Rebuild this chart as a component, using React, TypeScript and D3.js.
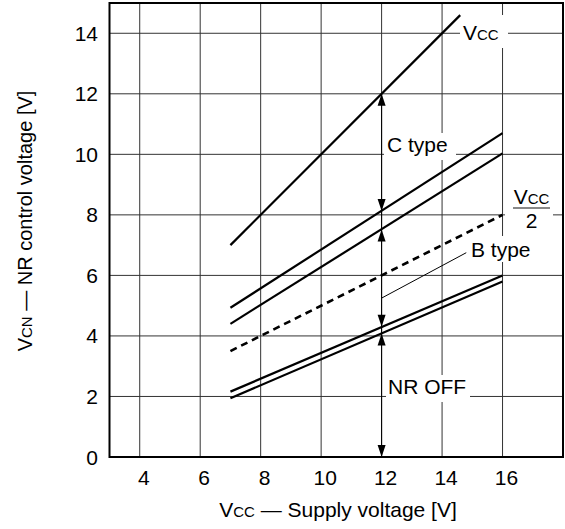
import React from "react";
import * as d3 from "d3";

// ---- data ----
const xTicks = [4, 6, 8, 10, 12, 14, 16];
const yTicks = [0, 2, 4, 6, 8, 10, 12, 14];
const gridX = [4, 6, 8, 10, 12, 14, 16];
const gridY = [2, 4, 6, 8, 10, 12, 14];

// lines: [x, y] end points
const vccLine: [number, number][] = [[7, 7], [14.6, 14.6]];
const cTypeUpper: [number, number][] = [[7, 4.93], [16, 10.7]];
const cTypeLower: [number, number][] = [[7, 4.4], [16, 10.03]];
const halfVccLine: [number, number][] = [[7, 3.5], [16, 8.0]];
const bTypeUpper: [number, number][] = [[7, 2.16], [16, 6.0]];
const bTypeLower: [number, number][] = [[7, 1.94], [16, 5.8]];

const solidLines = [vccLine, cTypeUpper, cTypeLower, bTypeUpper, bTypeLower];

// arrow segments at Vcc = 12 V: [top, bottom]
const arrowX = 12;
const arrowSegments: [number, number][] = [[12, 8.13], [7.52, 4.3], [4.08, 0]];

const bLeader: [number, number][] = [[12, 5.25], [14.8, 6.75]];

const W = 565, H = 529;
const L = 109.5, R = 563, T = 3, B = 457;
const FONT = "'Liberation Sans', Arial, Helvetica, sans-serif";

export default function App() {
  const x = d3.scaleLinear().domain([3, 18]).range([L, R]);
  const y = d3.scaleLinear().domain([0, 15]).range([B, T]);
  const line = d3.line<[number, number]>().x(d => x(d[0])).y(d => y(d[1]));

  const arrowHead = (px: number, py: number, dir: "up" | "down") => {
    const h = 12, w = 4;
    const s = dir === "up" ? 1 : -1;
    return `M${px},${py} L${px - w},${py + s * h} L${px + w},${py + s * h} Z`;
  };

  const labelBox = (bx: number, by: number, bw: number, bh: number) => (
    <rect x={bx} y={by} width={bw} height={bh} fill="#fff" />
  );

  return (
    <svg width={W} height={H} style={{ position: "absolute", left: 0, top: 0, background: "#fff" }} fontFamily={FONT}>
      {/* grid */}
      {gridX.map(v => (
        <line key={"gx" + v} x1={x(v)} x2={x(v)} y1={T} y2={B} stroke="#333" strokeWidth={1} />
      ))}
      {gridY.map(v => (
        <line key={"gy" + v} x1={L} x2={R} y1={y(v)} y2={y(v)} stroke="#333" strokeWidth={1} />
      ))}

      {/* label backgrounds */}
      {labelBox(460, 15, 48, 33)}
      {labelBox(384, 133, 72, 27)}
      {labelBox(386, 375, 84, 27)}
      {labelBox(505, 188, 48, 47)}
      {labelBox(469, 236, 64, 26)}

      {/* arrow line at 12 V */}
      <line x1={x(arrowX)} x2={x(arrowX)} y1={y(12)} y2={y(0)} stroke="#000" strokeWidth={1} />

      {/* frame */}
      <rect x={L} y={T} width={R - L} height={B - T} fill="none" stroke="#000" strokeWidth={2} />

      {/* data lines */}
      {solidLines.map((d, i) => (
        <path key={"l" + i} d={line(d) || ""} fill="none" stroke="#000" strokeWidth={2.2} />
      ))}
      <path d={line(halfVccLine) || ""} fill="none" stroke="#000" strokeWidth={2.6} strokeDasharray="7,5" />

      {/* arrows */}
      {arrowSegments.map(([top, bot], i) => (
        <g key={"a" + i}>
          <path d={arrowHead(x(arrowX), y(top), "up")} fill="#000" />
          <path d={arrowHead(x(arrowX), y(bot), "down")} fill="#000" />
        </g>
      ))}

      {/* B type leader */}
      <path d={line(bLeader) || ""} fill="none" stroke="#000" strokeWidth={1} />

      {/* labels */}
      <text x={463} y={40} fontSize={21}>V<tspan fontSize={15}>CC</tspan></text>
      <text x={387} y={152} fontSize={21}>C type</text>
      <text x={388} y={394} fontSize={21}>NR OFF</text>
      <text x={531.5} y={204} fontSize={21} textAnchor="middle">V<tspan fontSize={15}>CC</tspan></text>
      <line x1={513} x2={550} y1={208} y2={208} stroke="#888" strokeWidth={2} />
      <text x={531.5} y={228} fontSize={21} textAnchor="middle">2</text>
      <text x={471} y={257} fontSize={21}>B type</text>

      {/* tick labels */}
      {yTicks.map(v => (
        <text key={"yt" + v} x={98} y={y(v) + 7.5} fontSize={21} textAnchor="end">{v}</text>
      ))}
      {xTicks.map(v => (
        <text key={"xt" + v} x={x(v) + 4} y={485} fontSize={21} textAnchor="middle">{v}</text>
      ))}

      {/* axis titles */}
      <text x={338} y={517} fontSize={21} textAnchor="middle">
        V<tspan fontSize={15}>CC</tspan> — Supply voltage [V]
      </text>
      <text transform={`translate(31.5,221) rotate(-90)`} fontSize={20} textAnchor="middle">
        V<tspan fontSize={15}>CN</tspan> — NR control voltage [V]
      </text>
    </svg>
  );
}
